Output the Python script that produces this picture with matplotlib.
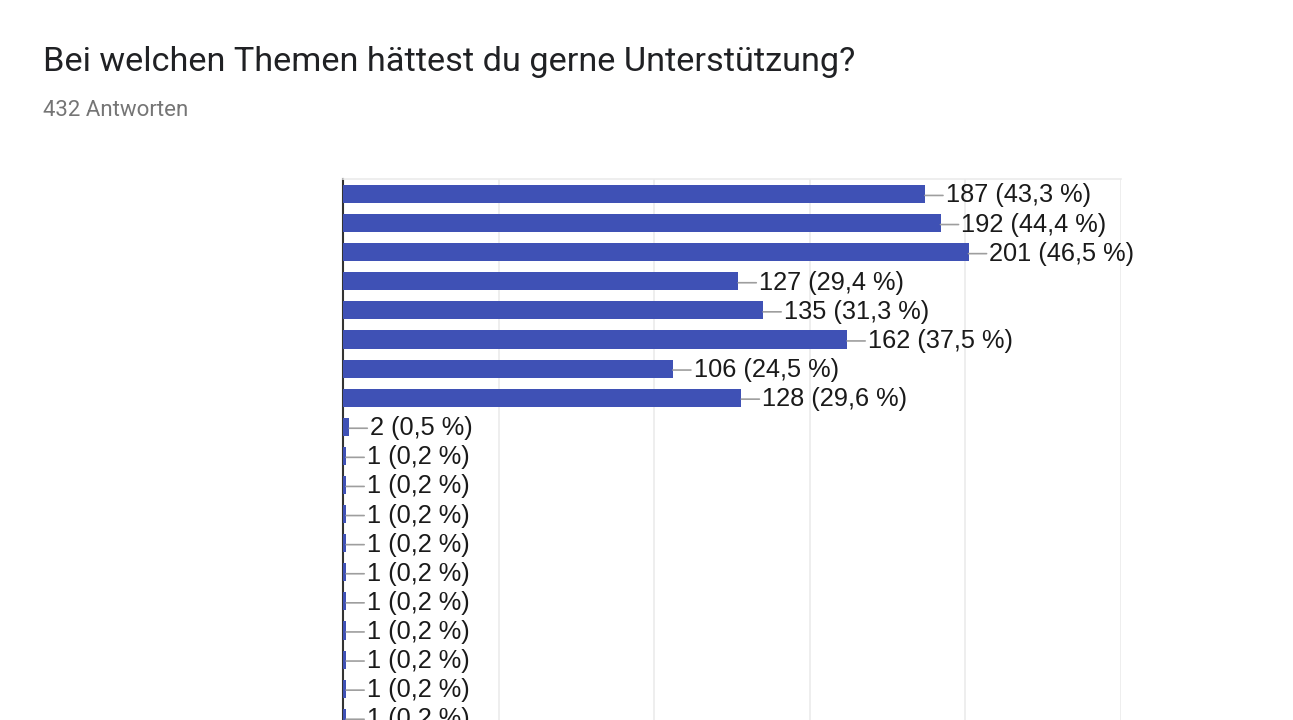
import matplotlib.pyplot as plt

# Google-Forms style summary chart (category labels are not shown in the source)
counts = [187, 192, 201, 127, 135, 162, 106, 128, 2, 1, 1, 1, 1, 1, 1, 1, 1, 1, 1]
percents = ["43,3", "44,4", "46,5", "29,4", "31,3", "37,5", "24,5", "29,6", "0,5",
            "0,2", "0,2", "0,2", "0,2", "0,2", "0,2", "0,2", "0,2", "0,2", "0,2"]
title = "Bei welchen Themen hättest du gerne Unterstützung?"
subtitle = "432 Antworten"

bar_color = "#3f51b5"

fig = plt.figure(figsize=(12.93, 7.2), dpi=100)
fig.text(43/1293, 1 - 71/720, title, fontsize=24.7, family=["Roboto", "DejaVu Sans"],
         color="#202124", va="baseline")
fig.text(43/1293, 1 - 116/720, subtitle, fontsize=16, family=["Roboto", "DejaVu Sans"],
         color="#757575", va="baseline")

ax = fig.add_axes([343/1293, 0, (1121-343)/1293, (720-179)/720])
rows = list(range(len(counts)))
ax.barh(rows, counts, height=0.62, color=bar_color, zorder=3)

for i, (v, p) in enumerate(zip(counts, percents)):
    ax.annotate(f"{v} ({p} %)", xy=(v, i + 0.05), xytext=(15, 0), textcoords="offset points",
                va="center", ha="left", fontsize=18.3, family=["Liberation Sans", "DejaVu Sans"],
                color="#1a1a1a", annotation_clip=False,
                arrowprops=dict(arrowstyle="-", color="#9e9e9e", lw=1.2,
                                shrinkA=0, shrinkB=0))

ax.set_xlim(0, 250)
ax.set_ylim(-0.515 + (720-179)/29.1, -0.515)
ax.set_xticks([0, 50, 100, 150, 200, 250])
ax.set_yticks([])
ax.tick_params(axis="x", length=0, labelbottom=False)
ax.grid(axis="x", color="#ebebeb", lw=1.2, zorder=0)
for s in ["right", "bottom"]:
    ax.spines[s].set_visible(False)
ax.spines["top"].set_color("#ebebeb")
ax.spines["top"].set_linewidth(1.2)
ax.spines["left"].set_color("#333333")
ax.spines["left"].set_linewidth(1.5)
ax.spines["left"].set_zorder(2)

fig.savefig("out.png", dpi=100)
